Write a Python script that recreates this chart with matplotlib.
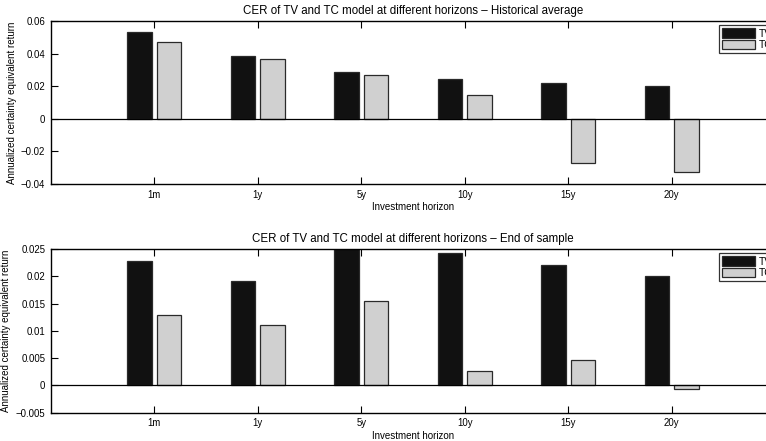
import matplotlib.pyplot as plt
import numpy as np

plt.rcParams["font.family"] = ["Liberation Sans", "DejaVu Sans"]

horizons = ["1m", "1y", "5y", "10y", "15y", "20y"]

# Historical average
hist_tv = [0.0537, 0.0387, 0.0287, 0.0248, 0.0221, 0.0203]
hist_tc = [0.0470, 0.0371, 0.0270, 0.0146, -0.0274, -0.0324]

# End of sample
end_tv = [0.02275, 0.0191, 0.0256, 0.02427, 0.0221, 0.0200]
end_tc = [0.0129, 0.01116, 0.01544, 0.00263, 0.00464, -0.0006]

panels = [
    ("Historical average", hist_tv, hist_tc, (-0.04, 0.06), [-0.04, -0.02, 0, 0.02, 0.04, 0.06],
     ["\u22120.04", "\u22120.02", "0", "0.02", "0.04", "0.06"]),
    ("End of sample", end_tv, end_tc, (-0.005, 0.025), [-0.005, 0, 0.005, 0.01, 0.015, 0.02, 0.025],
     ["\u22120.005", "0", "0.005", "0.01", "0.015", "0.02", "0.025"]),
]

fig = plt.figure(figsize=(7.66, 4.41), dpi=100)
positions = [[0.0662, 0.5828, 0.946, 0.369], [0.0662, 0.0642, 0.946, 0.371]]

x = np.arange(1, len(horizons) + 1)
for pos, (name, tv, tc, ylim, yticks, ylabels) in zip(positions, panels):
    ax = fig.add_axes(pos)
    ax.bar(x - 0.143, tv, width=0.235, color="#111111", edgecolor="#2a2a2a", linewidth=0.9, label="TV", zorder=2)
    ax.bar(x + 0.143, tc, width=0.235, color="#d0d0d0", edgecolor="#2a2a2a", linewidth=0.9, label="TC", zorder=2)
    ax.axhline(0, color="black", linewidth=0.9, zorder=3)
    ax.set_xlim(0, 7)
    ax.set_ylim(*ylim)
    ax.set_xticks(x)
    ax.set_xticklabels(horizons)
    ax.set_yticks(yticks)
    ax.set_yticklabels(ylabels)
    ax.tick_params(direction="in", length=5, width=0.8, labelsize=6.9, top=True, right=True, pad=4)
    for s in ax.spines.values():
        s.set_linewidth(1.0)
    ax.set_title("CER of TV and TC model at different horizons \u2013 " + name, fontsize=8.3, pad=5)
    ax.set_xlabel("Investment horizon", fontsize=7, labelpad=2)
    ax.set_ylabel("Annualized certainty equivalent return", fontsize=7, labelpad=3)
    leg = ax.legend(loc="upper right", bbox_to_anchor=(1.0, 0.975), fontsize=7.5, frameon=True,
                    fancybox=False, edgecolor="black", handlelength=3.2, handleheight=1.0,
                    borderpad=0.3, labelspacing=0.1, handletextpad=0.3, borderaxespad=0)
    leg.get_frame().set_linewidth(0.9)

fig.savefig("out.png", dpi=100)
